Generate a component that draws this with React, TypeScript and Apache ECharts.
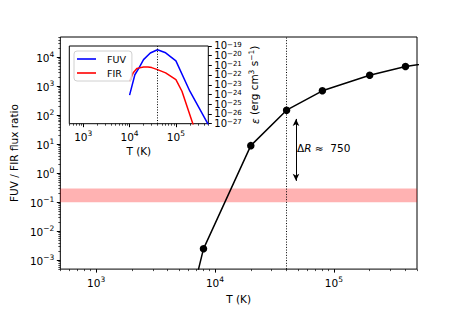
import React, { useEffect, useRef } from 'react';
import * as echarts from 'echarts';

// Main panel: FUV / FIR flux ratio versus temperature
const ratioT = [6000, 8000, 20000, 40000, 80000, 200000, 400000, 1000000];
const ratioVal = [2e-5, 2.5e-3, 9, 150, 700, 2400, 4800, 8500];

// Inset: emissivities
const fuvT = [1e4, 1.3e4, 1.6e4, 2e4, 2.8e4, 4e4, 6e4, 1e5, 2e5, 5e5];
const fuvVal = [8.7e-25, 1.1e-22, 5.5e-22, 4e-21, 1.9e-20, 4.2e-20, 2e-20, 3e-21, 2.2e-24, 8e-28];
const firT = [1e4, 1.2e4, 1.45e4, 2e4, 2.5e4, 3e4, 4e4, 6e4, 1e5, 1.35e5, 2.4e5];
const firVal = [2.4e-23, 1.8e-22, 5e-22, 7e-22, 7e-22, 6e-22, 3.7e-22, 1.7e-22, 3.5e-23, 2.2e-24, 6e-28];

// Annotations
const bandRange = [0.1, 0.3];
const markT = 4e4;
const arrowT = 4.8e4;
const arrowRange = [0.55, 75];
const deltaR = 750;
const deltaLabelY = 7.3;

// Ticks
const xMajor = [1e3, 1e4, 1e5];
const xMinor = [500, 600, 700, 800, 900, 2e3, 3e3, 4e3, 5e3, 6e3, 7e3, 8e3, 9e3,
  2e4, 3e4, 4e4, 5e4, 6e4, 7e4, 8e4, 9e4, 2e5, 3e5, 4e5, 5e5];
const yMajor = [1e-3, 1e-2, 1e-1, 1, 10, 100, 1e3, 1e4];
const yMinor = [5e-4, 6e-4, 7e-4, 8e-4, 9e-4, 2e-3, 3e-3, 4e-3, 5e-3, 6e-3, 7e-3, 8e-3, 9e-3,
  2e-2, 3e-2, 4e-2, 5e-2, 6e-2, 7e-2, 8e-2, 9e-2, 0.2, 0.3, 0.4, 0.5, 0.6, 0.7, 0.8, 0.9,
  2, 3, 4, 5, 6, 7, 8, 9, 20, 30, 40, 50, 60, 70, 80, 90, 200, 300, 400, 500, 600, 700, 800, 900,
  2e3, 3e3, 4e3, 5e3, 6e3, 7e3, 8e3, 9e3, 2e4, 3e4, 4e4, 5e4];
const epsMajorOdd = [1e-27, 1e-25, 1e-23, 1e-21, 1e-19];
const epsMajorEven = [1e-26, 1e-24, 1e-22, 1e-20];
const epsMin = 0.99e-27;
const epsMax = 1.01e-19;

const FONT = 'DejaVu Sans';
const BASE = 10.5;
const SUP = 7.5;

const powRich = {
  b: { fontSize: BASE, fontFamily: FONT, color: '#000', verticalAlign: 'bottom', lineHeight: 13 },
  s: { fontSize: SUP, fontFamily: FONT, color: '#000', verticalAlign: 'top', lineHeight: 13 },
};
const powRichSmall = {
  b: { fontSize: 10, fontFamily: FONT, color: '#000', verticalAlign: 'bottom', lineHeight: 9.6 },
  s: { fontSize: 7, fontFamily: FONT, color: '#000', verticalAlign: 'top', lineHeight: 9.6 },
};

function powLabel(v: number): string {
  const e = Math.round(Math.log10(v));
  const es = e < 0 ? '\u2212' + String(-e) : String(e);
  return '{b|10}{s|' + es + '}';
}

const nameStyle = { fontSize: BASE, fontFamily: FONT, color: '#000' };

function majorAxis(grid: number, min: number, max: number, ticks: number[], extra: any, rich: any = powRich) {
  return {
    type: 'log', logBase: 10, gridIndex: grid, min, max,
    axisLine: { show: false },
    splitLine: { show: false },
    axisTick: { show: true, customValues: ticks, length: 3.5, inside: false, lineStyle: { color: '#000', width: 1 } },
    axisLabel: { show: true, customValues: ticks, formatter: powLabel, rich, margin: 6, color: '#000', showMinLabel: true, showMaxLabel: true, hideOverlap: false },
    ...extra,
  };
}
function minorAxis(grid: number, min: number, max: number, ticks: number[], extra: any) {
  return {
    type: 'log', logBase: 10, gridIndex: grid, min, max,
    axisLine: { show: false },
    splitLine: { show: false },
    axisTick: { show: true, customValues: ticks, length: 2, inside: false, lineStyle: { color: '#000', width: 0.7 } },
    axisLabel: { show: false },
    ...extra,
  };
}

export default function App() {
  const ref = useRef<HTMLDivElement>(null);
  useEffect(() => {
    if (!ref.current) return;
    const chart = echarts.init(ref.current, null, { renderer: 'svg' });
    const option: any = {
      animation: false,
      textStyle: { fontFamily: FONT },
      grid: [
        { left: 58, top: 37, width: 359, height: 233, show: true, borderColor: '#000', borderWidth: 1, backgroundColor: 'transparent', containLabel: false },
        { left: 69.3, top: 46, width: 139, height: 77.7, show: true, borderColor: '#000', borderWidth: 1, backgroundColor: '#fff', containLabel: false },
      ],
      xAxis: [
        majorAxis(0, 500, 5e5, xMajor, { position: 'bottom', name: 'T (K)', nameLocation: 'middle', nameGap: 22, nameTextStyle: nameStyle }),
        minorAxis(0, 500, 5e5, xMinor, { position: 'bottom' }),
        majorAxis(1, 500, 5e5, xMajor, { position: 'bottom', name: 'T (K)', nameLocation: 'middle', nameGap: 22, nameTextStyle: nameStyle }),
        minorAxis(1, 500, 5e5, xMinor, { position: 'bottom' }),
      ],
      yAxis: [
        majorAxis(0, 5e-4, 5e4, yMajor, { position: 'left', name: 'FUV / FIR flux ratio', nameLocation: 'middle', nameGap: 37, nameRotate: 90, nameTextStyle: nameStyle }),
        minorAxis(0, 5e-4, 5e4, yMinor, { position: 'left' }),
        majorAxis(1, epsMin, epsMax, epsMajorOdd, {
          position: 'right', name: '{i|\u03b5} (erg cm{s|3} s{s|\u22121})', nameLocation: 'middle', nameGap: 39, nameRotate: 90,
          nameTextStyle: {
            ...nameStyle,
            rich: {
              i: { fontSize: BASE, fontFamily: FONT, fontStyle: 'italic', color: '#000', verticalAlign: 'bottom', lineHeight: 13 },
              s: { fontSize: SUP, fontFamily: FONT, color: '#000', verticalAlign: 'top', lineHeight: 13 },
            },
          },
        }, powRichSmall),
        majorAxis(1, epsMin, epsMax, epsMajorEven, { position: 'right' }, powRichSmall),
      ],
      legend: {
        data: ['FUV', 'FIR'],
        left: 74, top: 51, orient: 'vertical',
        icon: 'rect', itemWidth: 19, itemHeight: 1.6, itemGap: 2,
        padding: [2, 6, 2, 3],
        selectedMode: false,
        borderColor: '#d0d0d0', borderWidth: 1, borderRadius: 3,
        backgroundColor: 'rgba(255,255,255,0.8)',
        textStyle: { fontSize: 9.5, fontFamily: FONT, color: '#000', lineHeight: 12, padding: [0, 0, 0, 6] },
      },
      series: [
        {
          type: 'line', name: 'ratio', xAxisIndex: 0, yAxisIndex: 0,
          data: ratioT.map((t, i) => [t, ratioVal[i]]),
          showSymbol: true, symbol: 'circle', symbolSize: 7.5,
          itemStyle: { color: '#000' },
          lineStyle: { color: '#000', width: 1.5 },
          clip: true, z: 3,
          markArea: {
            silent: true,
            itemStyle: { color: 'rgba(255,0,0,0.3)' },
            data: [[{ yAxis: bandRange[0] }, { yAxis: bandRange[1] }]],
          },
          markLine: {
            silent: true,
            symbol: ['none', 'none'],
            label: { show: false },
            data: [
              { xAxis: markT, lineStyle: { type: [1, 1.65], color: '#000', width: 1 } },
              [
                { coord: [arrowT, arrowRange[0]], symbol: 'arrow', symbolSize: [5, 7], lineStyle: { type: 'solid', color: '#000', width: 1 } },
                { coord: [arrowT, arrowRange[1]], symbol: 'arrow', symbolSize: [5, 7], lineStyle: { type: 'solid', color: '#000', width: 1 } },
              ],
            ],
          },
          markPoint: {
            silent: true,
            data: [{
              coord: [arrowT, deltaLabelY], symbol: 'circle', symbolSize: 0,
              label: {
                show: true, position: 'right', distance: 1,
                formatter: '{n|\u0394}{i|R}{n| \u2248  ' + deltaR + '}',
                rich: {
                  n: { fontSize: BASE, fontFamily: FONT, color: '#000' },
                  i: { fontSize: BASE, fontFamily: FONT, fontStyle: 'italic', color: '#000' },
                },
              },
            }],
          },
        },
        {
          type: 'line', name: 'FUV', xAxisIndex: 2, yAxisIndex: 2,
          data: fuvT.map((t, i) => [t, fuvVal[i]]),
          showSymbol: false, symbol: 'none',
          itemStyle: { color: '#0000ff' },
          lineStyle: { color: '#0000ff', width: 1.5 },
          clip: true,
          markLine: {
            silent: true, symbol: ['none', 'none'], label: { show: false },
            data: [{ xAxis: markT, lineStyle: { type: [1, 1.65], color: '#000', width: 1 } }],
          },
        },
        {
          type: 'line', name: 'FIR', xAxisIndex: 2, yAxisIndex: 2,
          data: firT.map((t, i) => [t, firVal[i]]),
          showSymbol: false, symbol: 'none',
          itemStyle: { color: '#ff0000' },
          lineStyle: { color: '#ff0000', width: 1.5 },
          clip: true,
        },
      ],
    };
    chart.setOption(option);
    return () => chart.dispose();
  }, []);
  return <div ref={ref} style={{ position: 'absolute', left: 0, top: 0, width: 463, height: 309, background: '#fff' }} />;
}
